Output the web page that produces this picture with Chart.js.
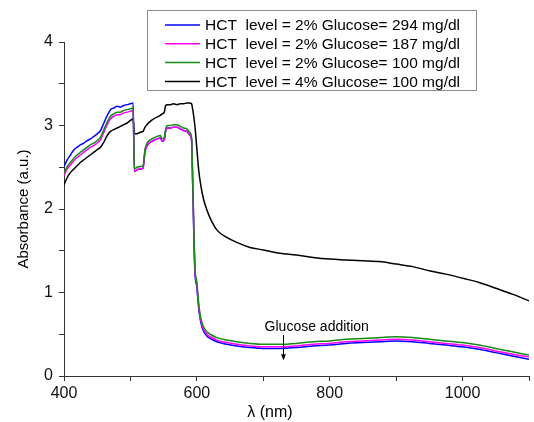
<!DOCTYPE html>
<html>
<head>
<meta charset="utf-8">
<script src="https://cdn.jsdelivr.net/npm/chart.js@4/dist/chart.umd.min.js"></script>
<style>
  html, body { margin: 0; padding: 0; background: #fff; }
</style>
</head>
<body>
<canvas id="chart" width="534" height="422"></canvas>
<script>
// wavelength grid (nm), shared by all four spectra
const wavelengths = [
  400, 405, 410, 415, 420, 425, 430, 435, 440, 445, 450, 455, 460, 465, 470, 475, 480, 485, 490, 495, 500, 504,
  506, 510, 515, 519, 522, 526, 530, 535, 540, 545, 548, 551, 553, 556, 560, 565, 570, 575, 580, 585, 589, 592,
  594, 597, 600, 603, 606, 610, 615, 620, 630, 645, 660, 680, 700, 725, 750, 775, 800, 825, 850, 875, 900, 925,
  950, 975, 1000, 1025, 1050, 1075, 1100
];

const seriesLabels = [
  'HCT  level = 2% Glucose= 294 mg/dl',
  'HCT  level = 2% Glucose= 187 mg/dl',
  'HCT  level = 2% Glucose= 100 mg/dl',
  'HCT  level = 4% Glucose= 100 mg/dl'
];
const seriesColors = ['#0000ff', '#ff00ff', '#158a15', '#000000'];

const hct2Glu294 = [
  2.51, 2.59, 2.65, 2.71, 2.74, 2.77, 2.79, 2.82, 2.84, 2.87, 2.90, 2.94, 3.03, 3.12, 3.19, 3.21, 3.23, 3.22, 3.24, 3.25, 3.26, 3.27,
  2.45, 2.47, 2.48, 2.49, 2.69, 2.77, 2.80, 2.82, 2.84, 2.85, 2.81, 2.83, 2.93, 2.97, 2.97, 2.98, 2.98, 2.96, 2.94, 2.93, 2.89, 2.83,
  2.20, 1.27, 1.06, 0.80, 0.64, 0.54, 0.48, 0.45, 0.41, 0.38, 0.36, 0.34, 0.33, 0.33, 0.34, 0.36, 0.37, 0.39, 0.40, 0.41, 0.42, 0.41,
  0.39, 0.37, 0.35, 0.32, 0.28, 0.24, 0.20
];
const hct2Glu187 = [
  2.40, 2.48, 2.53, 2.58, 2.62, 2.65, 2.68, 2.71, 2.74, 2.76, 2.79, 2.83, 2.92, 3.01, 3.08, 3.11, 3.13, 3.13, 3.15, 3.16, 3.17, 3.18,
  2.45, 2.47, 2.48, 2.49, 2.69, 2.77, 2.80, 2.82, 2.84, 2.85, 2.81, 2.83, 2.93, 2.97, 2.97, 2.98, 2.98, 2.96, 2.94, 2.93, 2.89, 2.83,
  2.22, 1.29, 1.09, 0.82, 0.66, 0.56, 0.50, 0.47, 0.43, 0.40, 0.38, 0.36, 0.35, 0.35, 0.36, 0.38, 0.39, 0.41, 0.42, 0.43, 0.44, 0.43,
  0.41, 0.39, 0.37, 0.34, 0.30, 0.26, 0.23
];
const hct2Glu100 = [
  2.43, 2.51, 2.56, 2.61, 2.65, 2.68, 2.71, 2.74, 2.77, 2.79, 2.82, 2.86, 2.95, 3.04, 3.11, 3.14, 3.16, 3.16, 3.18, 3.19, 3.20, 3.21,
  2.48, 2.50, 2.51, 2.52, 2.72, 2.80, 2.83, 2.85, 2.87, 2.88, 2.84, 2.86, 2.96, 3.00, 3.00, 3.01, 3.01, 2.99, 2.97, 2.96, 2.92, 2.86,
  2.25, 1.32, 1.12, 0.85, 0.69, 0.59, 0.53, 0.50, 0.46, 0.43, 0.41, 0.39, 0.38, 0.38, 0.39, 0.41, 0.42, 0.44, 0.45, 0.46, 0.47, 0.46,
  0.44, 0.42, 0.40, 0.37, 0.33, 0.29, 0.25
];
const hct4Glu100 = [
  2.29, 2.38, 2.44, 2.48, 2.52, 2.56, 2.59, 2.62, 2.65, 2.68, 2.71, 2.74, 2.80, 2.88, 2.93, 2.95, 2.97, 2.99, 3.01, 3.03, 3.06, 3.08,
  2.90, 2.90, 2.92, 2.93, 2.98, 3.02, 3.05, 3.08, 3.10, 3.12, 3.14, 3.16, 3.24, 3.25, 3.25, 3.26, 3.25, 3.26, 3.26, 3.27, 3.27, 3.26,
  3.18, 3.00, 2.72, 2.45, 2.28, 2.12, 1.99, 1.89, 1.75, 1.66, 1.60, 1.54, 1.51, 1.47, 1.45, 1.42, 1.40, 1.39, 1.38, 1.37, 1.34, 1.31,
  1.26, 1.22, 1.17, 1.12, 1.05, 0.98, 0.90
];
const seriesValues = [hct2Glu294, hct2Glu187, hct2Glu100, hct4Glu100];
const drawOrder = [2, 1, 0, 3]; // green on top, as in the original

const xTicksLabelled = [400, 600, 800, 1000];
const yTicksLabelled = [0, 1, 2, 3, 4];

// "Glucose addition" note and arrow
const noteText = 'Glucose addition';
const noteAt = { x: 702, y: 0.59 };
const arrowFrom = { x: 730, y: 0.49 };
const arrowTo = { x: 730, y: 0.19 };

const FONT = '"Liberation Sans", Arial, sans-serif';

function toPoints(values) {
  return wavelengths.map(function(x, i) { return { x: x, y: values[i] }; });
}

const datasets = seriesValues.map(function(values, i) {
  return {
    label: seriesLabels[i],
    data: toPoints(values),
    borderColor: seriesColors[i],
    backgroundColor: seriesColors[i],
    borderWidth: 1.5,
    pointRadius: 0,
    cubicInterpolationMode: 'monotone',
    order: drawOrder[i]
  };
});

// legend box, x title and note drawn by hand
const extras = {
  id: 'extras',
  afterDraw(chart) {
    const ctx = chart.ctx;
    const xs = chart.scales.x, ys = chart.scales.y;
    ctx.save();

    // legend
    ctx.fillStyle = '#fff';
    ctx.fillRect(147.5, 10.5, 329, 80);
    ctx.strokeStyle = '#8c8c8c';
    ctx.lineWidth = 1;
    ctx.strokeRect(147.5, 10.5, 329, 80);
    ctx.font = '15.5px ' + FONT;
    ctx.textBaseline = 'middle';
    ctx.textAlign = 'left';
    chart.data.datasets.forEach(function(ds, i) {
      const y = 25 + i * 18.8;
      ctx.strokeStyle = ds.borderColor;
      ctx.lineWidth = 1.5;
      ctx.beginPath();
      ctx.moveTo(165, y);
      ctx.lineTo(200, y);
      ctx.stroke();
      ctx.fillStyle = '#000';
      ctx.fillText(ds.label, 205, y + 1);
    });

    // x axis title
    ctx.font = '16px ' + FONT;
    ctx.textAlign = 'center';
    ctx.fillStyle = '#000';
    ctx.fillText('\u03bb (nm)', xs.getPixelForValue(710), 413);

    // note + arrow
    ctx.font = '14px ' + FONT;
    ctx.textAlign = 'left';
    ctx.fillText(noteText, xs.getPixelForValue(noteAt.x), ys.getPixelForValue(noteAt.y));
    const ax = Math.round(xs.getPixelForValue(arrowFrom.x)) + 0.5;
    const ay1 = ys.getPixelForValue(arrowFrom.y);
    const ay2 = ys.getPixelForValue(arrowTo.y);
    ctx.strokeStyle = '#000';
    ctx.lineWidth = 1;
    ctx.beginPath();
    ctx.moveTo(ax, ay1);
    ctx.lineTo(ax, ay2 - 5);
    ctx.stroke();
    ctx.beginPath();
    ctx.moveTo(ax - 2.5, ay2 - 6);
    ctx.lineTo(ax + 2.5, ay2 - 6);
    ctx.lineTo(ax, ay2);
    ctx.closePath();
    ctx.fill();

    ctx.restore();
  }
};

new Chart(document.getElementById('chart'), {
  type: 'line',
  data: { datasets: datasets },
  plugins: [extras],
  options: {
    responsive: false,
    animation: false,
    layout: { padding: { top: 42, right: 5, left: 0, bottom: 0 } },
    plugins: {
      legend: { display: false },
      tooltip: { enabled: false }
    },
    scales: {
      x: {
        type: 'linear',
        min: 400,
        max: 1100,
        afterFit: function(scale) { scale.height = 46; },
        grid: { drawOnChartArea: false, tickLength: 5, color: '#333' },
        border: { color: '#333', width: 1 },
        ticks: {
          stepSize: 100,
          autoSkip: false,
          maxRotation: 0,
          padding: 3,
          color: '#111',
          font: { family: FONT, size: 16 },
          callback: function(v) { return xTicksLabelled.includes(v) ? String(v) : ''; }
        }
      },
      y: {
        min: 0,
        max: 4,
        afterFit: function(scale) { scale.width = 64; },
        grid: { drawOnChartArea: false, tickLength: 5, color: '#333' },
        border: { color: '#333', width: 1 },
        ticks: {
          stepSize: 0.5,
          autoSkip: false,
          padding: 6,
          color: '#111',
          font: { family: FONT, size: 16 },
          callback: function(v) { return yTicksLabelled.includes(v) ? String(v) : ''; }
        },
        title: {
          display: true,
          text: 'Absorbance (a.u.)',
          color: '#000',
          font: { family: FONT, size: 15 },
          padding: { top: 15, bottom: 0 }
        }
      }
    }
  }
});
</script>
</body>
</html>
